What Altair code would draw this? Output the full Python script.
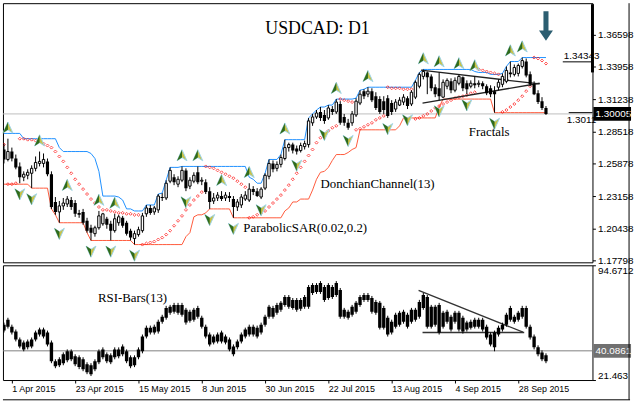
import altair as alt
import pandas as pd

# ---------------- data (daily USDCAD bars, 30 Mar - 7 Oct 2015) ----------------
open_ = [1.2704, 1.2621, 1.2687, 1.2629, 1.2563, 1.2473, 1.2489, 1.2506, 1.2547, 1.2588,
         1.2588, 1.2605, 1.2498, 1.2267, 1.2184, 1.2234, 1.2250, 1.2283, 1.2258, 1.2176,
         1.2184, 1.2110, 1.2052, 1.2003, 1.2052, 1.2085, 1.2127, 1.2085, 1.2028, 1.2094,
         1.2135, 1.2094, 1.2028, 1.1962, 1.1995, 1.2028, 1.2168, 1.2217, 1.2184, 1.2201,
         1.2308, 1.2300, 1.2440, 1.2473, 1.2415, 1.2448, 1.2530, 1.2399, 1.2440, 1.2514,
         1.2440, 1.2432, 1.2357, 1.2275, 1.2300, 1.2316, 1.2300, 1.2316, 1.2291, 1.2225,
         1.2242, 1.2291, 1.2283, 1.2374, 1.2357, 1.2308, 1.2382, 1.2481, 1.2588, 1.2547,
         1.2580, 1.2629, 1.2720, 1.2745, 1.2712, 1.2695, 1.2728, 1.2745, 1.2926, 1.2975,
         1.3017, 1.2992, 1.2967, 1.3041, 1.3017, 1.3083, 1.2975, 1.2926, 1.2926, 1.2992,
         1.3091, 1.3190, 1.3165, 1.3190, 1.3148, 1.3124, 1.3107, 1.3132, 1.3091, 1.3041,
         1.3074, 1.3099, 1.3132, 1.3083, 1.3140, 1.3231, 1.3313, 1.3346, 1.3313, 1.3223,
         1.3214, 1.3140, 1.3231, 1.3272, 1.3198, 1.3256, 1.3305, 1.3256, 1.3231, 1.3256,
         1.3247, 1.3256, 1.3231, 1.3214, 1.3190, 1.3223, 1.3247, 1.3272, 1.3346, 1.3330,
         1.3338, 1.3396, 1.3437, 1.3330, 1.3247, 1.3173, 1.3107, 1.3050]
high = [1.2753, 1.2794, 1.2720, 1.2662, 1.2596, 1.2522, 1.2539, 1.2572, 1.2646, 1.2687,
        1.2671, 1.2629, 1.2522, 1.2308, 1.2275, 1.2300, 1.2316, 1.2308, 1.2283, 1.2201,
        1.2209, 1.2135, 1.2077, 1.2069, 1.2192, 1.2176, 1.2143, 1.2110, 1.2168, 1.2160,
        1.2151, 1.2110, 1.2044, 1.2028, 1.2061, 1.2176, 1.2242, 1.2242, 1.2234, 1.2333,
        1.2341, 1.2448, 1.2555, 1.2498, 1.2481, 1.2563, 1.2547, 1.2473, 1.2514, 1.2563,
        1.2473, 1.2456, 1.2390, 1.2341, 1.2349, 1.2357, 1.2349, 1.2349, 1.2316, 1.2291,
        1.2333, 1.2357, 1.2423, 1.2399, 1.2382, 1.2390, 1.2506, 1.2621, 1.2613, 1.2605,
        1.2662, 1.2786, 1.2761, 1.2761, 1.2737, 1.2761, 1.2778, 1.2967, 1.3000, 1.3033,
        1.3058, 1.3033, 1.3074, 1.3066, 1.3124, 1.3107, 1.3000, 1.2959, 1.3025, 1.3132,
        1.3198, 1.3206, 1.3223, 1.3214, 1.3181, 1.3148, 1.3148, 1.3157, 1.3115, 1.3124,
        1.3140, 1.3165, 1.3148, 1.3198, 1.3280, 1.3346, 1.3371, 1.3354, 1.3330, 1.3247,
        1.3346, 1.3288, 1.3297, 1.3297, 1.3305, 1.3330, 1.3313, 1.3280, 1.3280, 1.3313,
        1.3280, 1.3272, 1.3247, 1.3239, 1.3231, 1.3288, 1.3338, 1.3396, 1.3437, 1.3412,
        1.3420, 1.3470, 1.3462, 1.3354, 1.3272, 1.3198, 1.3140, 1.3066]
low = [1.2588, 1.2605, 1.2605, 1.2539, 1.2423, 1.2440, 1.2456, 1.2382, 1.2522, 1.2563,
       1.2555, 1.2481, 1.2209, 1.2160, 1.2094, 1.2201, 1.2225, 1.2201, 1.2143, 1.2135,
       1.2077, 1.2011, 1.1946, 1.1978, 1.2036, 1.2069, 1.2044, 1.1946, 1.2011, 1.2069,
       1.2052, 1.1987, 1.1946, 1.1912, 1.1978, 1.2011, 1.2143, 1.2160, 1.2160, 1.2176,
       1.2275, 1.2283, 1.2423, 1.2407, 1.2390, 1.2432, 1.2357, 1.2374, 1.2423, 1.2415,
       1.2407, 1.2333, 1.2209, 1.2250, 1.2275, 1.2275, 1.2275, 1.2267, 1.2135, 1.2192,
       1.2217, 1.2275, 1.2267, 1.2324, 1.2308, 1.2291, 1.2366, 1.2456, 1.2514, 1.2522,
       1.2555, 1.2613, 1.2687, 1.2671, 1.2662, 1.2679, 1.2704, 1.2720, 1.2901, 1.2959,
       1.2942, 1.2918, 1.2951, 1.2992, 1.3000, 1.2910, 1.2901, 1.2868, 1.2901, 1.2975,
       1.3074, 1.3124, 1.3140, 1.3099, 1.3033, 1.3000, 1.3000, 1.2967, 1.2992, 1.3017,
       1.3066, 1.3074, 1.3041, 1.3066, 1.3124, 1.3214, 1.3288, 1.3165, 1.3190, 1.3140,
       1.3115, 1.3132, 1.3206, 1.3173, 1.3181, 1.3239, 1.3190, 1.3165, 1.3214, 1.3214,
       1.3223, 1.3206, 1.3157, 1.3140, 1.3011, 1.3198, 1.3223, 1.3256, 1.3305, 1.3313,
       1.3313, 1.3379, 1.3305, 1.3231, 1.3157, 1.3083, 1.3033, 1.2992]
close = [1.2621, 1.2687, 1.2629, 1.2555, 1.2473, 1.2498, 1.2514, 1.2547, 1.2596, 1.2605,
         1.2621, 1.2498, 1.2225, 1.2184, 1.2234, 1.2258, 1.2291, 1.2225, 1.2168, 1.2160,
         1.2094, 1.2028, 1.2011, 1.2052, 1.2151, 1.2168, 1.2077, 1.2028, 1.2127, 1.2143,
         1.2069, 1.2003, 1.1970, 1.2003, 1.2036, 1.2151, 1.2217, 1.2176, 1.2217, 1.2316,
         1.2300, 1.2423, 1.2530, 1.2432, 1.2456, 1.2530, 1.2382, 1.2448, 1.2489, 1.2432,
         1.2448, 1.2349, 1.2267, 1.2300, 1.2324, 1.2291, 1.2324, 1.2300, 1.2225, 1.2267,
         1.2308, 1.2324, 1.2374, 1.2349, 1.2316, 1.2374, 1.2489, 1.2588, 1.2539, 1.2580,
         1.2638, 1.2720, 1.2745, 1.2695, 1.2687, 1.2737, 1.2753, 1.2942, 1.2975, 1.3008,
         1.2967, 1.2942, 1.3050, 1.3017, 1.3099, 1.2926, 1.2926, 1.2885, 1.3000, 1.3107,
         1.3165, 1.3148, 1.3190, 1.3115, 1.3050, 1.3017, 1.3033, 1.2984, 1.3017, 1.3099,
         1.3115, 1.3140, 1.3066, 1.3181, 1.3264, 1.3330, 1.3354, 1.3305, 1.3214, 1.3165,
         1.3148, 1.3264, 1.3280, 1.3198, 1.3280, 1.3313, 1.3214, 1.3206, 1.3256, 1.3239,
         1.3256, 1.3231, 1.3173, 1.3165, 1.3165, 1.3264, 1.3313, 1.3363, 1.3330, 1.3387,
         1.3404, 1.3445, 1.3321, 1.3247, 1.3165, 1.3099, 1.3050, 1.30005]

donchian_upper = [1.2838, 1.2838, 1.2838, 1.2838, 1.2838, 1.2794, 1.2794, 1.2794, 1.2794, 1.2794,
                  1.2794, 1.2794, 1.2794, 1.2794, 1.2720, 1.2687, 1.2687, 1.2687, 1.2687, 1.2687,
                  1.2687, 1.2687, 1.2671, 1.2629, 1.2522, 1.2316, 1.2316, 1.2316, 1.2316, 1.2308,
                  1.2283, 1.2209, 1.2209, 1.2192, 1.2192, 1.2192, 1.2242, 1.2242, 1.2242, 1.2333,
                  1.2341, 1.2448, 1.2555, 1.2555, 1.2555, 1.2563, 1.2563, 1.2563, 1.2563, 1.2563,
                  1.2563, 1.2563, 1.2563, 1.2563, 1.2563, 1.2563, 1.2563, 1.2563, 1.2563, 1.2563,
                  1.2563, 1.2563, 1.2473, 1.2456, 1.2423, 1.2423, 1.2506, 1.2621, 1.2621, 1.2621,
                  1.2662, 1.2786, 1.2786, 1.2786, 1.2786, 1.2786, 1.2786, 1.2967, 1.3000, 1.3033,
                  1.3058, 1.3058, 1.3074, 1.3074, 1.3124, 1.3124, 1.3124, 1.3124, 1.3124, 1.3132,
                  1.3198, 1.3206, 1.3223, 1.3223, 1.3223, 1.3223, 1.3223, 1.3223, 1.3223, 1.3223,
                  1.3223, 1.3223, 1.3223, 1.3223, 1.3280, 1.3346, 1.3371, 1.3371, 1.3371, 1.3371,
                  1.3371, 1.3371, 1.3371, 1.3371, 1.3371, 1.3371, 1.3371, 1.3371, 1.3371, 1.3354,
                  1.3346, 1.3346, 1.3346, 1.3330, 1.3330, 1.3330, 1.3338, 1.3396, 1.3437, 1.3437,
                  1.3437, 1.3470, 1.3470, 1.3470, 1.3470, 1.3470, 1.3470, 1.3470]
donchian_lower = [1.2415, 1.2415, 1.2415, 1.2415, 1.2415, 1.2415, 1.2415, 1.2382, 1.2382, 1.2382,
                  1.2382, 1.2382, 1.2209, 1.2160, 1.2094, 1.2094, 1.2094, 1.2094, 1.2094, 1.2094,
                  1.2094, 1.2011, 1.1946, 1.1946, 1.1946, 1.1946, 1.1946, 1.1946, 1.1946, 1.1946,
                  1.1946, 1.1946, 1.1946, 1.1912, 1.1912, 1.1912, 1.1912, 1.1912, 1.1912, 1.1912,
                  1.1912, 1.1912, 1.1912, 1.1912, 1.1912, 1.1912, 1.1978, 1.2011, 1.2143, 1.2160,
                  1.2160, 1.2176, 1.2209, 1.2209, 1.2209, 1.2209, 1.2209, 1.2209, 1.2135, 1.2135,
                  1.2135, 1.2135, 1.2135, 1.2135, 1.2135, 1.2135, 1.2135, 1.2135, 1.2135, 1.2135,
                  1.2135, 1.2192, 1.2217, 1.2267, 1.2267, 1.2291, 1.2291, 1.2291, 1.2366, 1.2456,
                  1.2514, 1.2522, 1.2555, 1.2613, 1.2662, 1.2662, 1.2662, 1.2679, 1.2704, 1.2720,
                  1.2868, 1.2868, 1.2868, 1.2868, 1.2868, 1.2868, 1.2868, 1.2868, 1.2868, 1.2868,
                  1.2901, 1.2967, 1.2967, 1.2967, 1.2967, 1.2967, 1.2967, 1.2967, 1.2967, 1.2967,
                  1.3058, 1.3124, 1.3124, 1.3124, 1.3124, 1.3124, 1.3124, 1.3124, 1.3124, 1.3124,
                  1.3124, 1.3124, 1.3124, 1.3124, 1.3011, 1.3011, 1.3011, 1.3011, 1.3011, 1.3011,
                  1.3011, 1.3011, 1.3011, 1.3011, 1.3011, 1.3011, 1.3011, 1.3011]
parabolic_sar = [1.2745, 1.2415, 1.2415, 1.2423, 1.2794, 1.2794, 1.2786, 1.2786, 1.2778, 1.2770,
                 1.2753, 1.2737, 1.2720, 1.2687, 1.2646, 1.2605, 1.2555, 1.2506, 1.2456, 1.2415,
                 1.2374, 1.2333, 1.2291, 1.2258, 1.2225, 1.2201, 1.2201, 1.2192, 1.2184, 1.2176,
                 1.2176, 1.2168, 1.2168, 1.2160, 1.2160, 1.1912, 1.1921, 1.1929, 1.1937, 1.1954,
                 1.1970, 1.1995, 1.2028, 1.2069, 1.2110, 1.2151, 1.2201, 1.2242, 1.2283, 1.2316,
                 1.2349, 1.2563, 1.2555, 1.2547, 1.2530, 1.2514, 1.2498, 1.2481, 1.2465, 1.2440,
                 1.2415, 1.2390, 1.2135, 1.2143, 1.2160, 1.2176, 1.2192, 1.2225, 1.2258, 1.2291,
                 1.2324, 1.2366, 1.2407, 1.2456, 1.2506, 1.2555, 1.2605, 1.2654, 1.2704, 1.2761,
                 1.2802, 1.2835, 1.2860, 1.2885, 1.2901, 1.3124, 1.3115, 1.3107, 1.3099, 1.2868,
                 1.2877, 1.2893, 1.2910, 1.2926, 1.2951, 1.2967, 1.2984, 1.3223, 1.3214, 1.3214,
                 1.3214, 1.3206, 1.3206, 1.3206, 1.2959, 1.2967, 1.2984, 1.3000, 1.3025, 1.3050,
                 1.3066, 1.3083, 1.3099, 1.3115, 1.3132, 1.3140, 1.3148, 1.3157, 1.3173, 1.3181,
                 1.3371, 1.3363, 1.3354, 1.3346, 1.3338, 1.3330, 1.3017, 1.3033, 1.3058, 1.3083,
                 1.3115, 1.3148, 1.3190, 1.3231, 1.3470, 1.3462, 1.3445, 1.3420]

fractal_up_bars = [1, 9, 16, 24, 28, 45, 49, 55, 62, 71, 84, 92, 106, 110, 115, 119, 128, 131]
fractal_down_bars = [4, 7, 14, 22, 27, 33, 46, 52, 58, 65, 74, 81, 87, 97, 102, 110, 117, 124]

# RSI-Bars(13): wick high, body top, body bottom, wick low
rsi_high = [58.1, 61.2, 56.8, 53.7, 48.6, 46.7, 47.3, 48.6, 53.0, 54.9,
            54.9, 53.0, 46.7, 34.7, 36.0, 39.1, 41.0, 41.0, 37.9, 37.2,
            36.0, 32.8, 32.2, 34.7, 41.0, 42.3, 39.1, 38.5, 42.3, 42.3,
            44.2, 41.0, 37.2, 37.2, 42.3, 50.5, 56.2, 56.2, 56.8, 60.0,
            63.1, 68.8, 69.4, 70.7, 70.7, 70.7, 67.5, 66.3, 67.5, 68.8,
            62.5, 56.8, 51.8, 50.5, 51.8, 53.0, 50.5, 48.6, 44.2, 47.3,
            51.8, 54.9, 56.8, 56.8, 56.2, 58.1, 63.1, 69.4, 68.8, 70.7,
            71.9, 75.7, 75.7, 73.8, 73.8, 73.8, 75.7, 82.1, 83.3, 83.3,
            84.6, 82.1, 83.3, 82.1, 84.6, 80.2, 67.5, 66.3, 69.4, 71.9,
            75.7, 77.0, 77.0, 75.1, 72.6, 71.9, 68.8, 62.5, 60.0, 64.4,
            65.6, 66.3, 64.4, 67.5, 67.5, 72.6, 77.0, 75.7, 69.4, 69.4,
            70.7, 65.6, 66.3, 63.1, 65.6, 65.6, 62.5, 59.3, 60.0, 61.2,
            61.2, 61.2, 56.8, 51.8, 53.0, 56.2, 58.1, 64.4, 68.8, 63.1,
            65.6, 68.8, 68.8, 56.8, 50.5, 43.6, 40.4, 38.5]
rsi_top = [56.8, 60.0, 55.5, 52.4, 47.3, 45.4, 46.1, 47.3, 51.8, 53.7,
           53.7, 51.8, 45.4, 33.5, 34.7, 37.9, 39.8, 39.8, 36.6, 36.0,
           34.7, 31.6, 30.9, 33.5, 39.8, 41.0, 37.9, 37.2, 41.0, 41.0,
           42.9, 39.8, 36.0, 36.0, 41.0, 49.2, 54.9, 54.9, 55.5, 58.7,
           61.9, 67.5, 68.2, 69.4, 69.4, 69.4, 66.3, 65.0, 66.3, 67.5,
           61.2, 55.5, 50.5, 49.2, 50.5, 51.8, 49.2, 47.3, 42.9, 46.1,
           50.5, 53.7, 55.5, 55.5, 54.9, 56.8, 61.9, 68.2, 67.5, 69.4,
           70.7, 74.5, 74.5, 72.6, 72.6, 72.6, 74.5, 80.8, 82.1, 82.1,
           83.3, 80.8, 82.1, 80.8, 83.3, 78.9, 66.3, 65.0, 68.2, 70.7,
           74.5, 75.7, 75.7, 73.8, 71.3, 70.7, 67.5, 61.2, 58.7, 63.1,
           64.4, 65.0, 63.1, 66.3, 66.3, 71.3, 75.7, 74.5, 68.2, 68.2,
           69.4, 64.4, 65.0, 61.9, 64.4, 64.4, 61.2, 58.1, 58.7, 60.0,
           60.0, 60.0, 55.5, 50.5, 51.8, 54.9, 56.8, 63.1, 67.5, 61.9,
           64.4, 67.5, 67.5, 55.5, 49.2, 42.3, 39.1, 37.2]
rsi_bottom = [53.0, 55.5, 51.8, 47.3, 42.9, 41.0, 42.3, 42.9, 47.3, 50.5,
              49.2, 44.2, 33.5, 30.3, 30.9, 32.2, 34.1, 34.7, 31.6, 29.7,
              28.4, 26.5, 25.2, 28.4, 32.8, 36.0, 33.5, 32.8, 36.0, 36.6,
              37.9, 33.5, 30.3, 30.9, 36.0, 39.8, 49.2, 51.8, 51.8, 52.4,
              58.7, 61.2, 64.4, 65.0, 64.4, 63.1, 58.1, 59.3, 60.0, 61.9,
              55.5, 49.2, 44.2, 45.4, 46.1, 46.1, 45.4, 41.0, 37.9, 42.3,
              46.1, 49.2, 50.5, 50.5, 49.2, 51.8, 56.8, 61.9, 61.9, 64.4,
              66.3, 69.4, 68.2, 67.5, 66.3, 66.9, 68.2, 68.2, 77.0, 77.6,
              77.6, 72.6, 73.8, 74.5, 75.7, 61.9, 61.9, 61.2, 63.1, 65.0,
              69.4, 72.6, 72.6, 65.0, 64.4, 54.9, 54.9, 50.5, 51.8, 55.5,
              56.8, 58.7, 55.5, 58.7, 60.0, 61.9, 67.5, 55.5, 55.5, 56.8,
              51.8, 55.5, 58.7, 53.7, 58.7, 53.7, 52.4, 53.7, 54.9, 55.5,
              55.5, 53.7, 48.6, 44.2, 42.3, 50.5, 53.7, 56.8, 60.0, 58.7,
              60.0, 61.9, 55.5, 48.6, 42.3, 37.9, 34.7, 33.5]
rsi_low = [51.8, 54.3, 50.5, 46.1, 41.7, 39.8, 41.0, 41.7, 46.1, 49.2,
           48.0, 42.9, 32.2, 29.0, 29.7, 30.9, 32.8, 33.5, 30.3, 28.4,
           27.1, 25.2, 24.0, 27.1, 31.6, 34.7, 32.2, 31.6, 34.7, 35.3,
           36.6, 32.2, 29.0, 29.7, 34.7, 38.5, 48.0, 50.5, 50.5, 51.1,
           57.4, 60.0, 63.1, 63.8, 63.1, 61.9, 56.8, 58.1, 58.7, 60.6,
           54.3, 48.0, 42.9, 44.2, 44.8, 44.8, 44.2, 39.8, 36.6, 41.0,
           44.8, 48.0, 49.2, 49.2, 48.0, 50.5, 55.5, 60.6, 60.6, 63.1,
           65.0, 68.2, 66.9, 66.3, 65.0, 65.6, 66.9, 66.9, 75.7, 76.4,
           76.4, 71.3, 72.6, 73.2, 74.5, 60.6, 60.6, 60.0, 61.9, 63.8,
           68.2, 71.3, 71.3, 63.8, 63.1, 53.7, 53.7, 49.2, 50.5, 54.3,
           55.5, 57.4, 54.3, 57.4, 58.7, 60.6, 66.3, 54.3, 54.3, 55.5,
           50.5, 54.3, 57.4, 52.4, 57.4, 52.4, 51.1, 52.4, 53.7, 54.3,
           54.3, 52.4, 47.3, 42.9, 39.8, 49.2, 52.4, 55.5, 58.7, 57.4,
           58.7, 60.6, 54.3, 47.3, 41.0, 36.6, 33.5, 32.2]

# axis ticks and labels
date_tick_bars = [2, 18, 34, 50, 66, 82, 98, 114, 130]
date_tick_labels = ["1 Apr 2015", "23 Apr 2015", "15 May 2015", "8 Jun 2015", "30 Jun 2015",
                    "22 Jul 2015", "13 Aug 2015", "4 Sep 2015", "28 Sep 2015"]
price_ticks = [1.17798, 1.20438, 1.23158, 1.25878, 1.28518, 1.31238, 1.33958, 1.36598]
rsi_ticks = [21.463, 94.6712]
last_price = 1.30005
rsi_level = 40.0861
channel_high_note = 1.34343
channel_low_note = 1.3011

# drawn trend lines (bar index / value of both ends)
price_trend_x0 = [105.4, 105.8]
price_trend_y0 = [1.3365, 1.3091]
price_trend_x1 = [135.4, 135.4]
price_trend_y1 = [1.3250, 1.3256]
rsi_trend_x0 = [104.8, 105.8]
rsi_trend_y0 = [78.7, 51.8]
rsi_trend_x1 = [131.2, 131.5]
rsi_trend_y1 = [52.0, 51.8]
signal_bar = [137]
signal_price = [1.3733]

# ---------------- build tables ----------------
n = len(close)
df = pd.DataFrame({
    "i": list(range(n)), "open": open_, "high": high, "low": low, "close": close,
    "upper": donchian_upper, "lower": donchian_lower, "sar": parabolic_sar,
    "r_hi": rsi_high, "r_top": rsi_top, "r_bot": rsi_bottom, "r_lo": rsi_low,
})
trend_p = pd.DataFrame({"x0": price_trend_x0, "y0": price_trend_y0, "x1": price_trend_x1, "y1": price_trend_y1})
trend_r = pd.DataFrame({"x0": rsi_trend_x0, "y0": rsi_trend_y0, "x1": rsi_trend_x1, "y1": rsi_trend_y1})
one = pd.DataFrame({"k": [0]})

FONT = "Liberation Sans"
SERIF = "Liberation Serif"

xs = alt.Scale(domain=[-0.25, 148.75], nice=False, zero=False, padding=0)
ys = alt.Scale(domain=[1.1764, 1.3923], nice=False, zero=False, padding=0)
rs = alt.Scale(domain=[21.463, 94.6712], nice=False, zero=False, padding=0)

price_axis = alt.Axis(orient="right", values=price_ticks, format=".5f", title=None, grid=False,
                      domain=False, tickSize=3, labelPadding=2, labelFont=FONT, labelFontSize=10,
                      labelColor="black", tickColor="black", labelFlush=False)
label_expr = " : ".join(f"datum.value == {b} ? '{t}'" for b, t in zip(date_tick_bars, date_tick_labels)) + " : ''"
date_axis = alt.Axis(values=date_tick_bars, labelExpr=label_expr, labelAlign="left", labelBaseline="top",
                     tickSize=3, labelPadding=2, domain=False, grid=False, title=None, labelFont=FONT,
                     labelFontSize=9, labelColor="black", tickColor="black", labelFlush=False,
                     labelOverlap=False, labelOffset=0)
rsi_axis = alt.Axis(orient="right", values=rsi_ticks, format=".4~f", title=None, grid=False, domain=False,
                    tickSize=3, labelPadding=2, labelFont=FONT, labelFontSize=10, labelColor="black",
                    tickColor="black", labelFlush=True)


def PX(field="i"):
    return alt.X(f"{field}:Q", scale=xs, axis=None)


def PY(field):
    return alt.Y(f"{field}:Q", scale=ys, axis=price_axis)


def RX(field="i"):
    return alt.X(f"{field}:Q", scale=xs, axis=date_axis)


def RY(field):
    return alt.Y(f"{field}:Q", scale=rs, axis=rsi_axis)


base = alt.Chart(df)

level = alt.Chart(pd.DataFrame({"p": [last_price]})).mark_rule(color="#bdbdbd", strokeWidth=1).encode(y=PY("p"))
upper_line = base.mark_line(color="#1e90ff", strokeWidth=1, clip=True).encode(x=PX(), y=PY("upper"))
lower_line = base.mark_line(color="#ff5a3c", strokeWidth=1, clip=True).encode(x=PX(), y=PY("lower"))
sar_pts = base.mark_point(shape="diamond", size=9, filled=False, color="#ff0000", strokeWidth=1, clip=True).encode(
    x=PX(), y=PY("sar"))
wicks = base.mark_rule(color="black", strokeWidth=1, clip=True).encode(x=PX(), y=PY("low"), y2="high:Q")
bodies_up = base.transform_filter("datum.close >= datum.open").mark_bar(
    size=2.4, fill="white", stroke="black", strokeWidth=1, clip=True).encode(x=PX(), y=PY("open"), y2="close:Q")
bodies_dn = base.transform_filter("datum.close < datum.open").mark_bar(
    size=3.2, color="black", clip=True).encode(x=PX(), y=PY("open"), y2="close:Q")

UP = "M0,-1L0.85,0.9L0,0.35L-0.85,0.9Z"
UP_HALF = "M0,-1L0,0.35L-0.85,0.9Z"
DOWN = "M0,1L0.85,-0.9L0,-0.35L-0.85,-0.9Z"
DOWN_HALF = "M0,1L0,-0.35L-0.85,-0.9Z"
fu = base.transform_filter(alt.FieldOneOfPredicate(field="i", oneOf=fractal_up_bars))
fd = base.transform_filter(alt.FieldOneOfPredicate(field="i", oneOf=fractal_down_bars))
frac_up = fu.mark_point(shape=UP, size=140, filled=True, fill="#c8c24a", stroke="#9fd4ea", strokeWidth=1,
                        opacity=1, yOffset=-11).encode(x=PX(), y=PY("high"))
frac_up2 = fu.mark_point(shape=UP_HALF, size=140, filled=True, fill="#2f6b1c", strokeWidth=0,
                         opacity=1, yOffset=-11).encode(x=PX(), y=PY("high"))
frac_dn = fd.mark_point(shape=DOWN, size=140, filled=True, fill="#c8c24a", stroke="#9fd4ea", strokeWidth=1,
                        opacity=1, yOffset=11).encode(x=PX(), y=PY("low"))
frac_dn2 = fd.mark_point(shape=DOWN_HALF, size=140, filled=True, fill="#2f6b1c", strokeWidth=0,
                         opacity=1, yOffset=11).encode(x=PX(), y=PY("low"))

tlines = alt.Chart(trend_p).mark_rule(color="#222222", strokeWidth=1.3).encode(
    x=PX("x0"), x2="x1:Q", y=PY("y0"), y2="y1:Q")

arrow = alt.Chart(pd.DataFrame({"i": signal_bar, "p": signal_price})).mark_point(
    shape="M-0.17,-1L0.17,-1L0.17,0.3L0.47,0.3L0,1L-0.47,0.3L-0.17,0.3Z", size=900,
    filled=True, color="#2c5e71", opacity=1).encode(x=PX(), y=PY("p"))


def label(text, x, y, size=13, font=SERIF, align="left", color="black"):
    return alt.Chart(one).mark_text(text=text, font=font, fontSize=size, align=align,
                                    baseline="middle", color=color).encode(
        x=alt.value(x), y=alt.value(y))


title_t = label("USDCAD: D1", 318, 26, size=18, align="center")
don_t = label("DonchianChannel(13)", 321, 183)
sar_t = label("ParabolicSAR(0.02,0.2)", 243, 227)
frac_t = label("Fractals", 471, 130)

scroll_bar = alt.Chart(one).mark_rule(color="black", strokeWidth=3).encode(
    x=alt.value(596), y=alt.value(1), y2=alt.value(70))

note_hi = alt.Chart(pd.DataFrame({"p": [channel_high_note]}))
note_hi_rule = note_hi.mark_rule(color="black", strokeWidth=1).encode(
    x=alt.value(566), x2=alt.value(596), y=PY("p"))
note_hi_txt = note_hi.mark_text(text="1.34343", font=FONT, fontSize=10, align="left", baseline="bottom", dy=-1).encode(
    x=alt.value(567), y=PY("p"))
note_lo = alt.Chart(pd.DataFrame({"p": [channel_low_note]}))
note_lo_rule = note_lo.mark_rule(color="black", strokeWidth=1).encode(
    x=alt.value(572), x2=alt.value(596), y=PY("p"))
note_lo_txt = note_lo.mark_text(text="1.3011", font=FONT, fontSize=10, align="left", baseline="top", dy=2).encode(
    x=alt.value(570), y=PY("p"))

BOX = "M-1,-0.37L1,-0.37L1,0.37L-1,0.37Z"
price_tag = alt.Chart(pd.DataFrame({"p": [last_price]}))
price_box = price_tag.mark_point(shape=BOX, size=1444, filled=True, color="black", opacity=1).encode(
    x=alt.value(616), y=PY("p"))
price_txt = price_tag.mark_text(text="1.30005", font=FONT, fontSize=10, align="left", baseline="middle",
                                color="white").encode(x=alt.value(599), y=PY("p"))

main = alt.layer(level, upper_line, lower_line, sar_pts, tlines, wicks, bodies_dn, bodies_up,
                 frac_up, frac_up2, frac_dn, frac_dn2, arrow, title_t, don_t, sar_t, frac_t, scroll_bar,
                 note_hi_rule, note_hi_txt, note_lo_rule, note_lo_txt, price_box, price_txt
                 ).properties(width=596, height=262)

# ---------------- RSI panel ----------------
rbase = alt.Chart(df)
r_level = alt.Chart(pd.DataFrame({"v": [rsi_level]})).mark_rule(color="#808080", strokeWidth=1).encode(y=RY("v"))
r_wick = rbase.mark_rule(color="black", strokeWidth=1, clip=True).encode(x=RX(), y=RY("r_lo"), y2="r_hi:Q")
r_body = rbase.mark_bar(size=3.4, color="black", clip=True).encode(x=RX(), y=RY("r_bot"), y2="r_top:Q")
r_lines = alt.Chart(trend_r).mark_rule(color="#333333", strokeWidth=1.3).encode(
    x=RX("x0"), x2="x1:Q", y=RY("y0"), y2="y1:Q")
rsi_t = label("RSI-Bars(13)", 96, 33)
r_tag = alt.Chart(pd.DataFrame({"v": [rsi_level]}))
r_box = r_tag.mark_point(shape=BOX, size=1444, filled=True, color="#707070", opacity=1).encode(
    x=alt.value(616), y=RY("v"))
r_txt = r_tag.mark_text(text="40.0861", font=FONT, fontSize=10, align="left", baseline="middle",
                        color="white").encode(x=alt.value(599), y=RY("v"))
# outer window frame (bottom and right edges), drawn relative to the RSI panel
frame_bottom = alt.Chart(one).mark_rule(color="black", strokeWidth=1).encode(
    x=alt.value(0), x2=alt.value(634), y=alt.value(136))
frame_right = alt.Chart(one).mark_rule(color="black", strokeWidth=1).encode(
    x=alt.value(633), y=alt.value(-265), y2=alt.value(136))

rsi = alt.layer(r_level, r_lines, r_wick, r_body, rsi_t, r_box, r_txt, frame_bottom, frame_right
                ).properties(width=596, height=116)

chart = alt.vconcat(main, rsi, spacing=3, bounds="flush").properties(
    padding={"left": 0, "top": 0, "right": 0, "bottom": 0}, background="white"
).configure_view(stroke="black", strokeWidth=1)

chart.save("out.html", embed_options={"renderer": "svg", "actions": False})
